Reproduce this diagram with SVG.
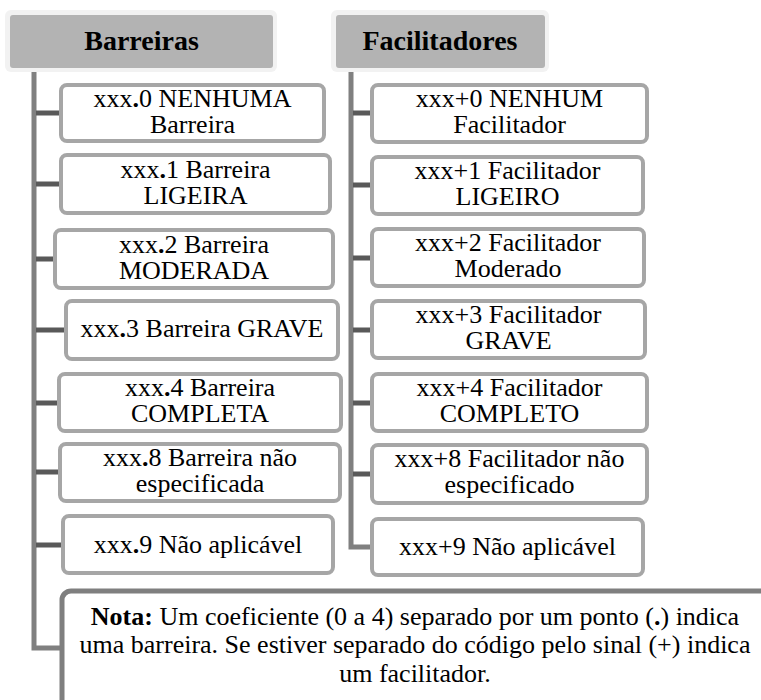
<svg xmlns="http://www.w3.org/2000/svg" width="761" height="700" viewBox="0 0 761 700" font-family="'Liberation Serif', 'Times New Roman', serif">
<style>
text{font-family:'Liberation Serif','Times New Roman',serif;font-size:26px;fill:#000;text-anchor:middle}
.h{font-weight:bold;font-size:28px}
.b{font-weight:bold}
.hout{fill:#f2f2f2}
.hin{fill:#b3b3b3}
.box{fill:#fff;stroke:#a6a6a6;stroke-width:4}
.note{fill:#fff;stroke:#7f7f7f;stroke-width:5}
.trunk{stroke:#808080;stroke-width:5;fill:none}
.stub{stroke:#595959;stroke-width:5;fill:none}
</style>
<g id="connectors">
<path class="trunk" d="M34 72 V648 H62"/>
<path class="trunk" d="M351 72 V547 H372"/>
<path class="stub" d="M36 113 H61 M36 184 H61 M36 259 H55 M36 330 H66 M36 403 H59 M36 472 H60 M36 545 H63"/>
<path class="stub" d="M353 113 H372 M353 185 H372 M353 258 H372 M353 330 H372 M353 403 H372 M353 474 H372"/>
</g>
<g id="h-barreiras"><rect class="hout" x="5" y="10" width="272" height="62" rx="6"/><rect class="hin" x="10" y="15" width="263" height="53" rx="3"/><text class="h" x="141.5" y="50">Barreiras</text></g>
<g id="h-facilitadores"><rect class="hout" x="331" y="10" width="218" height="62" rx="6"/><rect class="hin" x="336" y="15" width="209" height="53" rx="3"/><text class="h" x="440" y="50">Facilitadores</text></g>
<g id="b0"><rect class="box" x="61" y="85" width="263" height="56" rx="6"/><text x="192.5" y="107">xxx<tspan class="b">.</tspan>0 NENHUMA</text><text x="192.5" y="133">Barreira</text></g>
<g id="b1"><rect class="box" x="61" y="155" width="269" height="58" rx="6"/><text x="195.5" y="178">xxx<tspan class="b">.</tspan>1 Barreira</text><text x="195.5" y="204">LIGEIRA</text></g>
<g id="b2"><rect class="box" x="55" y="230" width="278" height="58" rx="6"/><text x="194" y="253">xxx<tspan class="b">.</tspan>2 Barreira</text><text x="194" y="279">MODERADA</text></g>
<g id="b3"><rect class="box" x="66" y="301" width="272" height="58" rx="6"/><text x="202" y="337">xxx<tspan class="b">.</tspan>3 Barreira GRAVE</text></g>
<g id="b4"><rect class="box" x="59" y="374" width="282" height="57" rx="6"/><text x="200" y="396">xxx<tspan class="b">.</tspan>4 Barreira</text><text x="200" y="422">COMPLETA</text></g>
<g id="b8"><rect class="box" x="60" y="444" width="280" height="57" rx="6"/><text x="200" y="466">xxx<tspan class="b">.</tspan>8 Barreira não</text><text x="200" y="492">especificada</text></g>
<g id="b9"><rect class="box" x="63" y="516" width="270" height="57" rx="6"/><text x="198" y="553">xxx<tspan class="b">.</tspan>9 Não aplicável</text></g>
<g id="f0"><rect class="box" x="372" y="85" width="275" height="57" rx="6"/><text x="509.5" y="107">xxx+0 NENHUM</text><text x="509.5" y="133">Facilitador</text></g>
<g id="f1"><rect class="box" x="372" y="157" width="271" height="57" rx="6"/><text x="507.5" y="179">xxx+1 Facilitador</text><text x="507.5" y="205">LIGEIRO</text></g>
<g id="f2"><rect class="box" x="372" y="229" width="272" height="57" rx="6"/><text x="508" y="251">xxx+2 Facilitador</text><text x="508" y="277">Moderado</text></g>
<g id="f3"><rect class="box" x="372" y="301" width="273" height="57" rx="6"/><text x="508.5" y="323">xxx+3 Facilitador</text><text x="508.5" y="349">GRAVE</text></g>
<g id="f4"><rect class="box" x="372" y="374" width="275" height="57" rx="6"/><text x="509.5" y="396">xxx+4 Facilitador</text><text x="509.5" y="422">COMPLETO</text></g>
<g id="f8"><rect class="box" x="372" y="445" width="275" height="58" rx="6"/><text x="509.5" y="467">xxx+8 Facilitador não</text><text x="509.5" y="493">especificado</text></g>
<g id="f9"><rect class="box" x="372" y="519" width="271" height="56" rx="6"/><text x="507.5" y="555">xxx+9 Não aplicável</text></g>
<g id="nota"><rect class="note" x="62" y="591" width="710" height="120" rx="9"/>
<text x="415" y="625"><tspan class="b">Nota:</tspan> Um coeficiente (0 a 4) separado por um ponto (<tspan class="b">.</tspan>) indica</text>
<text x="415" y="653">uma barreira. Se estiver separado do código pelo sinal (+) indica</text>
<text x="415" y="682">um facilitador.</text></g>
</svg>
